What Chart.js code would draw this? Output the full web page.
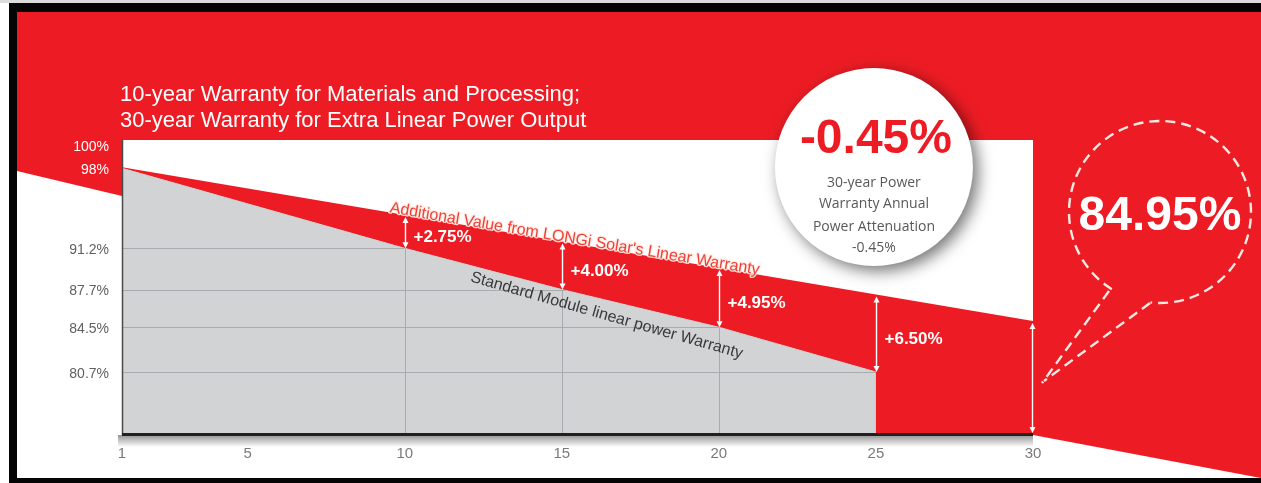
<!DOCTYPE html>
<html><head><meta charset="utf-8">
<script src="https://cdn.jsdelivr.net/npm/chart.js@4.4.1/dist/chart.umd.min.js"></script>
<style>html,body{margin:0;padding:0;background:#fff;overflow:hidden}#wrap{position:relative;width:1261px;height:483px}</style>
</head><body><div id="wrap"><canvas id="c" width="1261" height="483"></canvas></div>
<script>
// ---- data ----
const years = [1, 10, 15, 20, 25, 30];
const longiValues = [98, 93.95, 91.7, 89.45, 87.2, 84.95];
const standardYears = [1, 10, 15, 20, 25];
const standardValues = [98, 91.2, 87.7, 84.5, 80.7];
const gainYears = [10, 15, 20, 25];
const gainLabels = ['+2.75%', '+4.00%', '+4.95%', '+6.50%'];
const xTicks = [1, 5, 10, 15, 20, 25, 30];
const yTicks = [80.7, 84.5, 87.7, 91.2, 98, 100];
const gridYears = [10, 15, 20];
const gridValues = [80.7, 84.5, 87.7, 91.2];
const titleLines = ['10-year Warranty for Materials and Processing;', '30-year Warranty for Extra Linear Power Output'];
const longiLabel = "Additional Value from LONGi Solar's Linear Warranty";
const standardLabel = 'Standard Module linear power Warranty';
const rateLabel = '-0.45%';
const circleLines = ['30-year Power', 'Warranty Annual', 'Power Attenuation', '-0.45%'];

const RED = '#ed1c24', GRAY = '#d1d3d4';
const SANS = '"Liberation Sans", Arial, sans-serif';

function interp(xa, ya, x) {
  for (let i = 0; i < xa.length - 1; i++) {
    if (x >= xa[i] && x <= xa[i + 1]) {
      const t = (x - xa[i]) / (xa[i + 1] - xa[i]);
      return ya[i] + t * (ya[i + 1] - ya[i]);
    }
  }
  return ya[ya.length - 1];
}

const bgPlugin = {
  id: 'bg',
  beforeDraw(chart) {
    const { ctx, width, height, chartArea: ca } = chart;
    ctx.save();
    ctx.fillStyle = '#fff'; ctx.fillRect(0, 0, width, height);
    ctx.fillStyle = '#dcdcdc'; ctx.fillRect(0, 0, width, 3);
    ctx.fillStyle = '#050505';
    ctx.fillRect(9, 3, width - 9, 9);
    ctx.fillRect(9, 3, 8, height - 3);
    ctx.fillRect(9, 478, width - 9, 5);
    ctx.fillStyle = RED; ctx.fillRect(17, 12, width - 17, 466);
    ctx.fillStyle = '#fff';
    ctx.beginPath();
    ctx.moveTo(17, 171); ctx.lineTo(ca.left, 196); ctx.lineTo(ca.left, ca.top);
    ctx.lineTo(ca.right, ca.top); ctx.lineTo(ca.right, ca.bottom);
    ctx.lineTo(width, 478); ctx.lineTo(17, 478); ctx.closePath(); ctx.fill();
    // title
    ctx.fillStyle = '#fff'; ctx.font = '22px ' + SANS; ctx.textAlign = 'left'; ctx.textBaseline = 'alphabetic';
    ctx.fillText(titleLines[0], 120, 101);
    ctx.fillText(titleLines[1], 120, 127);
    ctx.restore();
  }
};

const gridPlugin = {
  id: 'gridClip',
  afterDatasetDraw(chart, args) {
    if (chart.data.datasets[args.index].label !== 'Standard') return;
    const { ctx, chartArea: ca, scales: { x: xs, y: ys } } = chart;
    ctx.save();
    ctx.beginPath();
    standardYears.forEach((yr, i) => {
      const px = xs.getPixelForValue(yr), py = ys.getPixelForValue(standardValues[i]);
      if (i) ctx.lineTo(px, py); else ctx.moveTo(px, py);
    });
    ctx.lineTo(xs.getPixelForValue(standardYears[standardYears.length - 1]), ca.bottom);
    ctx.lineTo(xs.getPixelForValue(standardYears[0]), ca.bottom);
    ctx.closePath(); ctx.clip();
    ctx.strokeStyle = '#a9abae'; ctx.lineWidth = 1;
    gridValues.forEach(v => {
      const py = Math.round(ys.getPixelForValue(v)) + 0.5;
      ctx.beginPath(); ctx.moveTo(ca.left, py); ctx.lineTo(ca.right, py); ctx.stroke();
    });
    gridYears.forEach(v => {
      const px = Math.round(xs.getPixelForValue(v)) + 0.5;
      ctx.beginPath(); ctx.moveTo(px, ca.top); ctx.lineTo(px, ca.bottom); ctx.stroke();
    });
    ctx.restore();
  }
};

const annotPlugin = {
  id: 'annot',
  afterDatasetsDraw(chart) {
    const { ctx, chartArea: ca, scales: { x: xs, y: ys } } = chart;
    ctx.save();
    // axis shadow
    const g = ctx.createLinearGradient(0, ca.bottom, 0, ca.bottom + 12);
    g.addColorStop(0, 'rgba(0,0,0,0.42)'); g.addColorStop(1, 'rgba(0,0,0,0)');
    ctx.fillStyle = g; ctx.fillRect(ca.left - 4, ca.bottom, ca.right - ca.left + 4, 12);
    // y axis line
    ctx.strokeStyle = '#4a4a4a'; ctx.lineWidth = 1.5;
    ctx.beginPath(); ctx.moveTo(ca.left + 0.5, ca.top); ctx.lineTo(ca.left + 0.5, ca.bottom); ctx.stroke();
    // x axis line
    ctx.strokeStyle = '#231f20'; ctx.lineWidth = 3;
    ctx.beginPath(); ctx.moveTo(ca.left, ca.bottom - 0.5); ctx.lineTo(ca.right, ca.bottom - 0.5); ctx.stroke();

    // arrows
    const head = (x, y, dir) => {
      ctx.beginPath(); ctx.moveTo(x, y); ctx.lineTo(x - 3, y - dir * 6); ctx.lineTo(x + 3, y - dir * 6); ctx.closePath(); ctx.fill();
    };
    const arrow = (x, y1, y2) => {
      ctx.strokeStyle = '#fff'; ctx.fillStyle = '#fff'; ctx.lineWidth = 1.4;
      ctx.beginPath(); ctx.moveTo(x, y1 + 4); ctx.lineTo(x, y2 - 4); ctx.stroke();
      head(x, y1, -1); head(x, y2, 1);
    };
    gainYears.forEach((yr, i) => {
      const px = Math.round(xs.getPixelForValue(yr)) + 0.5;
      const top = ys.getPixelForValue(longiValues[years.indexOf(yr)]) + 1;
      const bot = ys.getPixelForValue(standardValues[standardYears.indexOf(yr)]);
      arrow(px, top, bot);
      ctx.fillStyle = '#fff'; ctx.font = 'bold 17px ' + SANS; ctx.textBaseline = 'middle'; ctx.textAlign = 'left';
      ctx.fillText(gainLabels[i], px + 8, (top + bot) / 2 + 5);
    });
    const lastI = years.length - 1;
    arrow(Math.round(xs.getPixelForValue(years[lastI])) - 0.5, ys.getPixelForValue(longiValues[lastI]) + 1, ca.bottom - 2);

    // rotated label along LONGi line
    const x0 = xs.getPixelForValue(years[0]), y0 = ys.getPixelForValue(longiValues[0]);
    const x1 = xs.getPixelForValue(years[lastI]), y1 = ys.getPixelForValue(longiValues[lastI]);
    const ang1 = Math.atan2(y1 - y0, x1 - x0);
    const ay = 9.5;
    ctx.save();
    ctx.translate(xs.getPixelForValue(ay), ys.getPixelForValue(interp(years, longiValues, ay)));
    ctx.rotate(ang1);
    ctx.font = '16px ' + SANS; ctx.textBaseline = 'alphabetic'; ctx.textAlign = 'left';
    ctx.lineWidth = 2.5; ctx.strokeStyle = 'rgba(255,235,230,0.9)'; ctx.lineJoin = 'round';
    ctx.strokeText(longiLabel, 0, -1);
    ctx.fillStyle = '#ef4136'; ctx.fillText(longiLabel, 0, -1);
    ctx.restore();

    // rotated label along standard line
    const s0x = xs.getPixelForValue(10), s0y = ys.getPixelForValue(interp(standardYears, standardValues, 10));
    const s1x = xs.getPixelForValue(25), s1y = ys.getPixelForValue(interp(standardYears, standardValues, 25));
    const ang2 = Math.atan2(s1y - s0y, s1x - s0x) + 0.02;
    const sy = 12.2;
    ctx.save();
    ctx.translate(xs.getPixelForValue(sy), ys.getPixelForValue(interp(standardYears, standardValues, sy)));
    ctx.rotate(ang2);
    ctx.font = '16px ' + SANS; ctx.textBaseline = 'top'; ctx.textAlign = 'left';
    ctx.fillStyle = '#3a3a3c'; ctx.fillText(standardLabel, 0, 3);
    ctx.restore();
    ctx.restore();
  },
  afterDraw(chart) {
    const { ctx, chartArea: ca, scales: { x: xs } } = chart;
    ctx.save();
    // white circle with shadow
    const cx = xs.getPixelForValue(25) - 2, cy = ca.top + 27, r = 99;
    ctx.save();
    ctx.shadowColor = 'rgba(0,0,0,0.55)'; ctx.shadowBlur = 16; ctx.shadowOffsetX = 5; ctx.shadowOffsetY = 5;
    ctx.fillStyle = '#fff'; ctx.beginPath(); ctx.arc(cx, cy, r, 0, Math.PI * 2); ctx.fill();
    ctx.restore();
    ctx.fillStyle = RED; ctx.font = 'bold 48px ' + SANS; ctx.textAlign = 'center'; ctx.textBaseline = 'alphabetic';
    ctx.fillText(rateLabel, cx + 2, cy - 14);
    ctx.fillStyle = '#58595b'; ctx.font = '14px "Open Sans", sans-serif'; ctx.textBaseline = 'middle';
    const offs = [16, 37, 60, 81];
    circleLines.forEach((t, i) => ctx.fillText(t, cx, cy + offs[i]));

    // dashed speech bubble
    const bx = ca.right + 127, by = 212, br = 91;
    ctx.strokeStyle = '#fde9e2'; ctx.lineWidth = 2.4; ctx.setLineDash([10, 6]);
    ctx.beginPath(); ctx.arc(bx, by, br, 122 * Math.PI / 180, (96 + 360) * Math.PI / 180); ctx.stroke();
    const tipX = ca.right + 9, tipY = 383;
    ctx.beginPath(); ctx.moveTo(bx - 51, by + 79); ctx.lineTo(tipX, tipY); ctx.stroke();
    ctx.beginPath(); ctx.moveTo(bx - 10, by + 91); ctx.lineTo(tipX + 2, tipY - 2); ctx.stroke();
    ctx.setLineDash([]);
    ctx.fillStyle = '#fff'; ctx.font = 'bold 48px ' + SANS; ctx.textAlign = 'center'; ctx.textBaseline = 'alphabetic';
    ctx.fillText(longiValues[longiValues.length - 1].toFixed(2) + '%', bx, by + 18);
    ctx.restore();
  }
};

new Chart(document.getElementById('c'), {
  type: 'line',
  data: {
    datasets: [
      { label: 'Standard', data: standardYears.map((x, i) => ({ x, y: standardValues[i] })), order: 0,
        fill: 'start', backgroundColor: GRAY, borderColor: GRAY, borderWidth: 1, pointRadius: 0, tension: 0 },
      { label: 'LONGi', data: years.map((x, i) => ({ x, y: longiValues[i] })), order: 1,
        fill: 'start', backgroundColor: RED, borderColor: RED, borderWidth: 2, pointRadius: 0, tension: 0 }
    ]
  },
  options: {
    responsive: false, animation: false, devicePixelRatio: 1,
    layout: { padding: { left: 0, top: 140, right: 228, bottom: 0 } },
    plugins: { legend: { display: false }, tooltip: { enabled: false }, title: { display: false } },
    scales: {
      x: {
        type: 'linear', min: 1, max: 30,
        afterBuildTicks: s => { s.ticks = xTicks.map(v => ({ value: v })); },
        afterFit: s => { s.height = 48; },
        grid: { display: false, drawTicks: false }, border: { display: false },
        ticks: { color: '#7a7a7a', font: { family: SANS, size: 15 }, padding: 10, maxRotation: 0, autoSkip: false,
          callback: v => String(v) }
      },
      y: {
        type: 'linear', min: 75.35, max: 100.4,
        afterBuildTicks: s => { s.ticks = yTicks.map(v => ({ value: v })); },
        afterFit: s => { s.width = 122; },
        grid: { display: false, drawTicks: false }, border: { display: false },
        ticks: { color: c => (c.tick && c.tick.value >= 98) ? '#ffffff' : '#5f6062',
          font: { family: SANS, size: 14 }, padding: 13, labelOffset: 2, autoSkip: false, callback: v => v + '%' }
      }
    }
  },
  plugins: [bgPlugin, gridPlugin, annotPlugin]
});
</script>
</body></html>
